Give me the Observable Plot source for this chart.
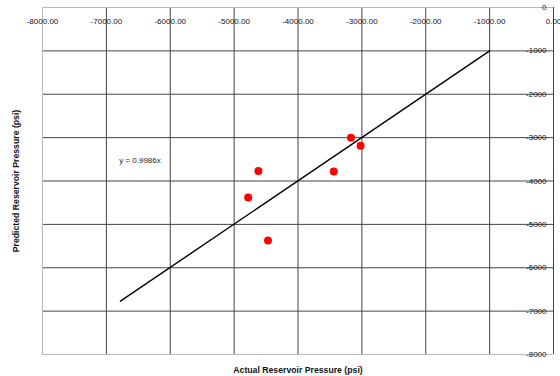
<!DOCTYPE html>
<html>
<head>
<meta charset="utf-8">
<script src="https://cdn.jsdelivr.net/npm/d3@7"></script>
<script src="https://cdn.jsdelivr.net/npm/@observablehq/plot@0.6"></script>
<style>
  html, body { margin: 0; padding: 0; background: #fff; }
  svg { font-family: "Liberation Sans", Arial, sans-serif; }
  g[aria-label="x-axis label"] text, g[aria-label="y-axis label"] text { font-weight: bold; font-size: 8.7px; }
</style>
</head>
<body>
<div id="chart"></div>
<script>
const actual    = [-3170, -3020, -4620, -3440, -4780, -4470];
const predicted = [-3000, -3190, -3770, -3780, -4380, -5370];
const trendX = [-6780, -1000];
const trendY = [-6770, -999];
const eqLabel = ["y = 0.9986x"];
const eqX = [-6800];
const eqY = [-3530];
const xTicks = [-8000, -7000, -6000, -5000, -4000, -3000, -2000, -1000, 0];
const yTicks = [0, -1000, -2000, -3000, -4000, -5000, -6000, -7000, -8000];
const gridX = [-7000, -6000, -5000, -4000, -3000, -2000, -1000];
const gridY = [-1000, -2000, -3000, -4000, -5000, -6000, -7000];

const points = actual.map((a, i) => ({x: a, y: predicted[i]}));
const trend = trendX.map((a, i) => ({x: a, y: trendY[i]}));

const chart = Plot.plot({
  width: 560,
  height: 376,
  marginLeft: 42,
  marginRight: 7,
  marginTop: 7,
  marginBottom: 22,
  style: {fontSize: "8px", fontFamily: "Liberation Sans, Arial, sans-serif", color: "#000", background: "#fff"},
  x: {domain: [-8000, 0]},
  y: {domain: [-8000, 0]},
  marks: [
    Plot.ruleX(gridX, {stroke: "#444", strokeWidth: 1}),
    Plot.ruleY(gridY, {stroke: "#444", strokeWidth: 1}),
    Plot.ruleX([-8000], {stroke: "#b8b8b8"}),
    Plot.ruleY([-8000, 0], {stroke: "#b8b8b8"}),
    Plot.ruleX([0], {stroke: "#444"}),
    Plot.axisX(xTicks, {anchor: "top", tickSize: 0, tickPadding: 0, dy: 16, tickFormat: d => d.toFixed(2), label: null, fill: "#111"}),
    Plot.axisX([], {anchor: "bottom", label: "Actual Reservoir Pressure (psi)", labelArrow: "none", labelAnchor: "center", labelOffset: 18, fill: "#111"}),
    Plot.axisY(yTicks, {anchor: "right", tickSize: 0, tickPadding: 0, dx: -7, textAnchor: "end", tickFormat: d => String(d), label: null, fill: "#111"}),
    Plot.axisY([], {anchor: "left", label: "Predicted Reservoir Pressure (psi)", labelArrow: "none", labelAnchor: "center", labelOffset: 30, fill: "#111"}),
    Plot.line(trend, {x: "x", y: "y", stroke: "#000", strokeWidth: 1.4}),
    Plot.dot(points, {x: "x", y: "y", r: 4, fill: "#ff0000", stroke: "none"}),
    Plot.text(eqLabel, {x: eqX, y: eqY, text: d => d, textAnchor: "start", fill: "#222", fontSize: 8})
  ]
});
document.getElementById("chart").appendChild(chart);
</script>
</body>
</html>
